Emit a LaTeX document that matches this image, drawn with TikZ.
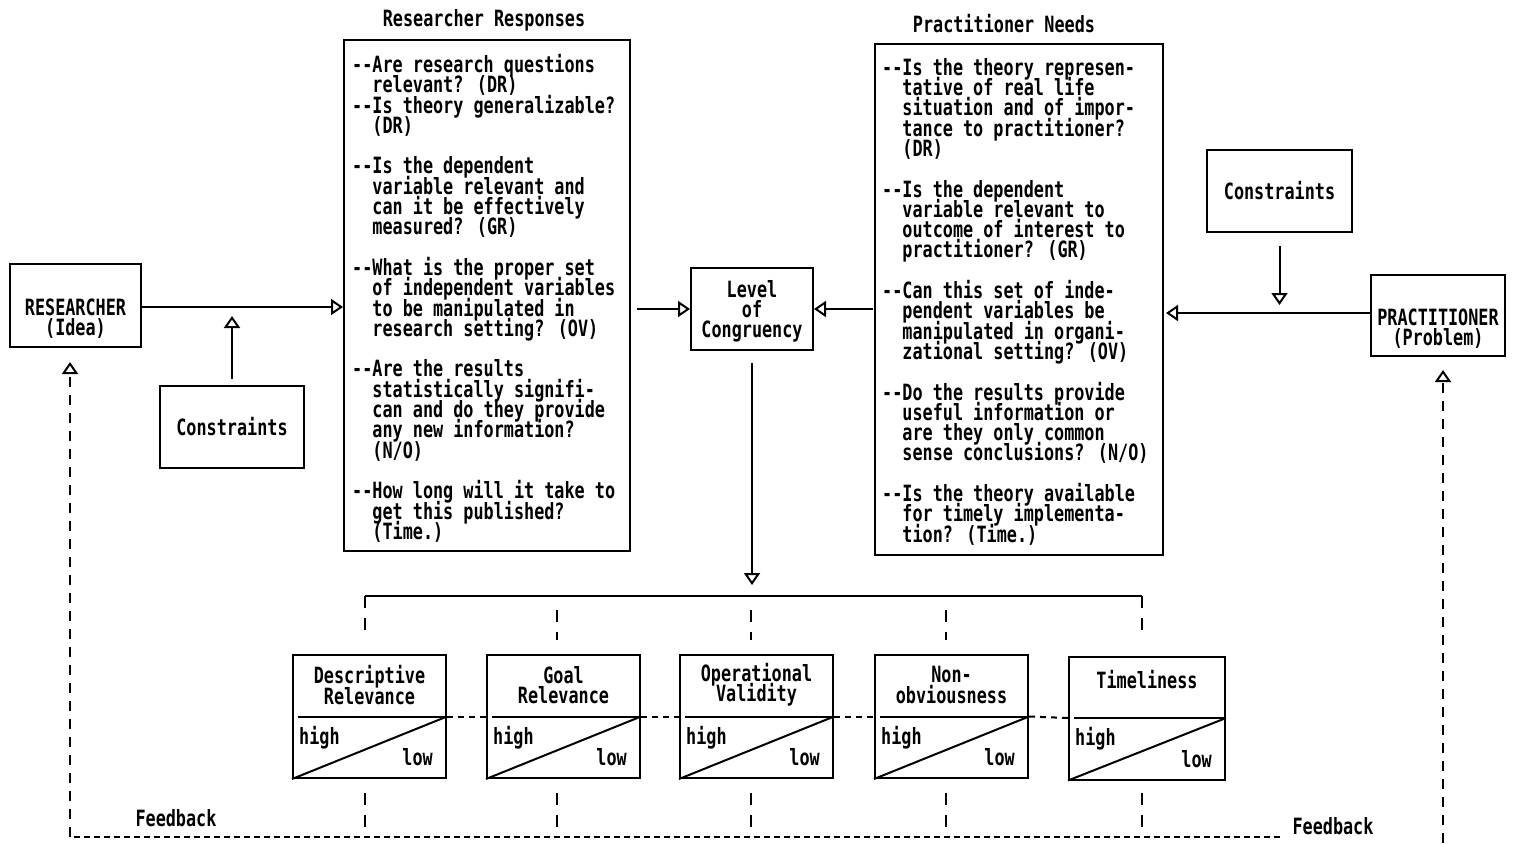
\documentclass[tikz,border=0pt]{standalone}
\usepackage{fontspec}
\newfontfamily\dmono[FakeStretch=0.75,Ligatures=TeXOff]{DejaVu Sans Mono}
\usetikzlibrary{arrows.meta,calc}
\newcommand\dd{-\kern0pt-}
\newcommand\ind{\phantom{\dd}}
\setlength\lineskiplimit{-100pt}
\begin{document}
\begin{tikzpicture}[x=1pt,y=-1pt,
  every node/.style={font=\dmono\bfseries\fontsize{22.4}{20.3}\selectfont, inner sep=0pt},
  box/.style={draw, line width=2pt},
  tip/.style={-{Triangle[open,length=12pt,width=16pt,line width=2pt]}},
  conn/.style={line width=2pt, tip},
  plain/.style={line width=2pt},
  dsh/.style={line width=2pt, dash pattern=on 12pt off 10pt},
  dots/.style={line width=2pt, dash pattern=on 6pt off 5pt},
  fbl/.style={line width=2pt, dash pattern=on 10pt off 8pt},
  fbb/.style={line width=2pt, dash pattern=on 6pt off 4pt},
]
\useasboundingbox (0,0) rectangle (1514,843);
\fill[white] (0,0) rectangle (1514,843);

% main boxes
\node[box, minimum width=131, minimum height=83] (res) at (75.5,305.5) {};
\node[align=center] (rest) at (75.5,318.5) {RESEARCHER\\(Idea)};
\node[box, minimum width=144, minimum height=82] (cl) at (232,427) {Constraints};
\node[box, minimum width=286, minimum height=511] (rr) at (487,295.5) {};
\node (rrtitle) at (484,20) {Researcher Responses};
\node[anchor=north west, align=left] (rrt) at (352,54) {%
\dd Are research questions\\
\ind relevant? (DR)\\
\dd Is theory generalizable?\\
\ind (DR)\\[20.3pt]
\dd Is the dependent\\
\ind variable relevant and\\
\ind can it be effectively\\
\ind measured? (GR)\\[20.3pt]
\dd What is the proper set\\
\ind of independent variables\\
\ind to be manipulated in\\
\ind research setting? (OV)\\[20.3pt]
\dd Are the results\\
\ind statistically signifi-\\
\ind can and do they provide\\
\ind any new information?\\
\ind (N/O)\\[20.3pt]
\dd How long will it take to\\
\ind get this published?\\
\ind (Time.)};

\node[box, minimum width=122, minimum height=82] (loc) at (752,309) {};
\node[align=center] (loct) at (752,311.5) {Level\\of\\Congruency};

\node[box, minimum width=288, minimum height=511] (pn) at (1019,299.5) {};
\node (pntitle) at (1004,24) {Practitioner Needs};
\node[anchor=north west, align=left] (pnt) at (882,58) {%
\dd Is the theory represen-\\
\ind tative of real life\\
\ind situation and of impor-\\
\ind tance to practitioner?\\
\ind (DR)\\[20.3pt]
\dd Is the dependent\\
\ind variable relevant to\\
\ind outcome of interest to\\
\ind practitioner? (GR)\\[20.3pt]
\dd Can this set of inde-\\
\ind pendent variables be\\
\ind manipulated in organi-\\
\ind zational setting? (OV)\\[20.3pt]
\dd Do the results provide\\
\ind useful information or\\
\ind are they only common\\
\ind sense conclusions? (N/O)\\[20.3pt]
\dd Is the theory available\\
\ind for timely implementa-\\
\ind tion? (Time.)};

\node[box, minimum width=145, minimum height=82] (cr) at (1279.5,191) {Constraints};
\node[box, minimum width=134, minimum height=81] (pr) at (1438,315.5) {};
\node[align=center] (prt) at (1438,329) {PRACTITIONER\\(Problem)};

% top connectors
\draw[conn] (res.east |- 0,307) -- (rr.west |- 0,307);
\coordinate (clend) at (232,316);
\draw[conn, shorten <=6pt] (cl.north) -- (clend);
\draw[conn, shorten <=6pt] (rr.east |- loc.west) -- (loc.west);
\draw[conn, shorten <=1pt] (pn.west |- loc.east) -- (loc.east);
\coordinate (crend) at (1279.5,305);
\draw[conn, shorten <=13pt] (cr.south) -- (crend);
\draw[conn, shorten >=2pt] (pr.west |- 0,313) -- (pn.east |- 0,313);

% down to criteria
\coordinate (locend) at (752,585);
\draw[conn, shorten <=12pt] (loc.south) -- (locend);
\coordinate (brL) at (365,596);
\coordinate (brR) at (1142,596);
\draw[plain] (brL) -- (brR);

% criteria boxes
\foreach \n/\x/\t in {b1/369.5/{Descriptive\\Relevance}, b2/563.5/{Goal\\Relevance}, b3/756.5/{Operational\\Validity}, b4/951.5/{Non-\\obviousness}}{
  \node[box, minimum width=153, minimum height=123] (\n) at (\x,716.5) {};
  \node[align=center] (\n t) at ($(\n.north)+(0,31)$) {\t};
}
\node[box, minimum width=156, minimum height=123] (b5) at (1147,718) {};
\node (b5t) at ($(b5.north)+(0,24)$) {Timeliness};

\foreach \n in {b1,b2,b3,b4,b5}{
  \draw[plain] ($(\n.west)+(6,0)$) -- (\n.east);
  \draw[plain] (\n.south west) -- (\n.east);
  \node[anchor=west] (\n h) at ($(\n.west)+(7,21)$) {high};
  \node[anchor=east] (\n l) at ($(\n.east)+(-14,41)$) {low};
}
\draw[dots] (b1.east) -- (b2.west);
\draw[dots] (b2.east) -- (b3.west);
\draw[dots] (b3.east) -- (b4.west);
\draw[dots] (b4.east) -- (b5.west);

% dashed verticals above boxes
\draw[dsh] (brL) -- (brL |- 0,638);
\draw[dsh] (brR) -- (brR |- 0,638);
\foreach \x in {557,751,946}{
  \draw[dsh] (\x,610) -- (\x,640);
}
% dashed verticals below boxes
\foreach \x in {365,557,751,946,1142}{
  \draw[dsh] (\x,793) -- (\x,827);
}

% feedback
\coordinate (fbL) at (70,837);
\coordinate (fbE) at (1280,837);
\coordinate (resfb) at (70,362);
\draw[fbb] (fbE) -- (fbL);
\draw[fbl, tip] (fbL) -- (resfb);
\coordinate (prB) at (1443,843);
\coordinate (prfb) at (1443,370);
\draw[fbl, tip] (prB) -- (prfb);
\node (fb1) at (176,818) {Feedback};
\node (fb2) at (1333,826) {Feedback};
\end{tikzpicture}
\end{document}
